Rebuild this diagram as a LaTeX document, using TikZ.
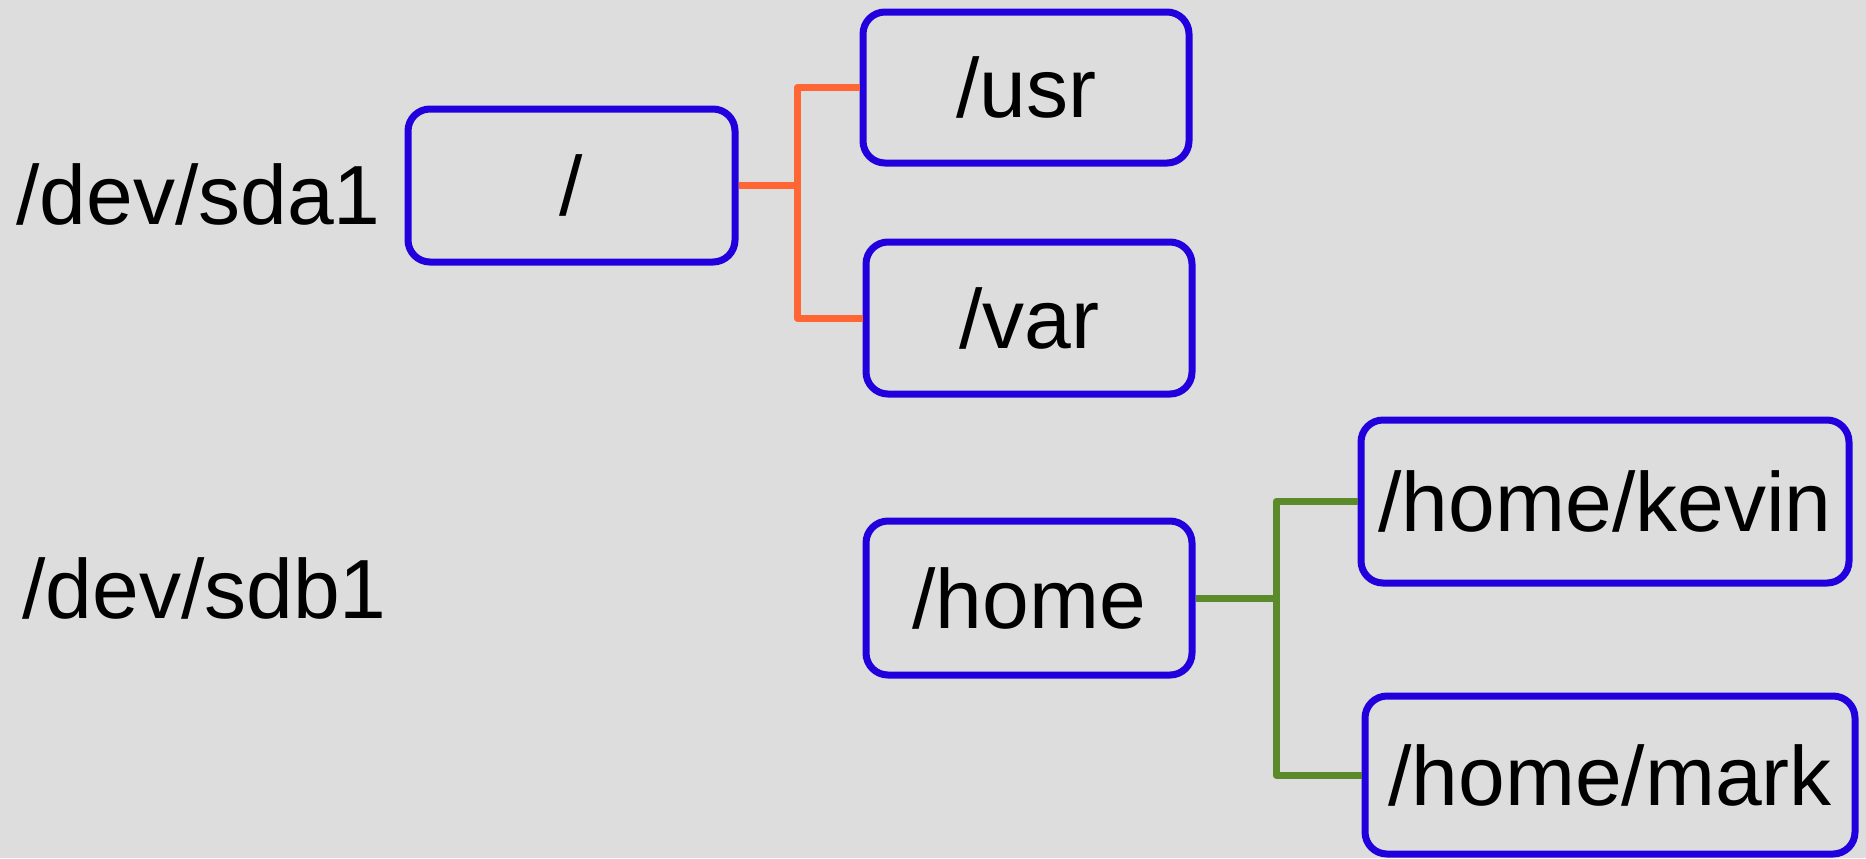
\documentclass[tikz,border=0pt]{standalone}
\usepackage{fontspec}
\setmainfont{Liberation Sans}
\definecolor{bgc}{HTML}{DDDDDD}
\definecolor{boxblue}{HTML}{2200DD}
\definecolor{linkorange}{HTML}{FF6633}
\definecolor{linkgreen}{HTML}{5B8A2B}
\tikzset{
  dirbox/.style={draw=boxblue, line width=3.5pt, rounded corners=11pt, inner sep=0pt,
    font=\fontsize{42pt}{50pt}\selectfont},
  devlabel/.style={anchor=base west, inner sep=0pt, font=\fontsize{42pt}{50pt}\selectfont},
  olink/.style={draw=linkorange, line width=3.5pt, line join=round},
  glink/.style={draw=linkgreen, line width=3.5pt, line join=round}
}
\begin{document}
\begin{tikzpicture}[x=0.5pt,y=-0.5pt]
\fill[bgc] (0,0) rectangle (1866,858);
\useasboundingbox (0,0) rectangle (1866,858);

\node[devlabel] (sda) at (16,224) {/dev/sda1};
\node[devlabel] (sdb) at (22,618) {/dev/sdb1};

\node[dirbox, minimum width=163.5pt, minimum height=76.5pt] (root) at (571.5,185.5) {/};
\node[dirbox, minimum width=163pt, minimum height=75.5pt] (usr) at (1026,87.5) {/usr};
\node[dirbox, minimum width=163pt, minimum height=76pt] (var) at (1029,318) {/var};
\node[dirbox, minimum width=163pt, minimum height=77pt] (home) at (1029,598) {/home};
\node[dirbox, minimum width=244pt, minimum height=81.5pt] (kevin) at (1605,501.5) {/home/kevin};
\node[dirbox, minimum width=245pt, minimum height=79pt] (mark) at (1610,775) {/home/mark};

\coordinate (j1) at (797,185.5);
\coordinate (j2) at (1276,598);

\draw[olink] (root.east) -- (j1);
\draw[olink] (j1) |- (usr.west);
\draw[olink] (j1) |- (var.west);

\draw[glink] (home.east) -- (j2);
\draw[glink] (j2) |- (kevin.west);
\draw[glink] (j2) |- (mark.west);
\end{tikzpicture}
\end{document}
